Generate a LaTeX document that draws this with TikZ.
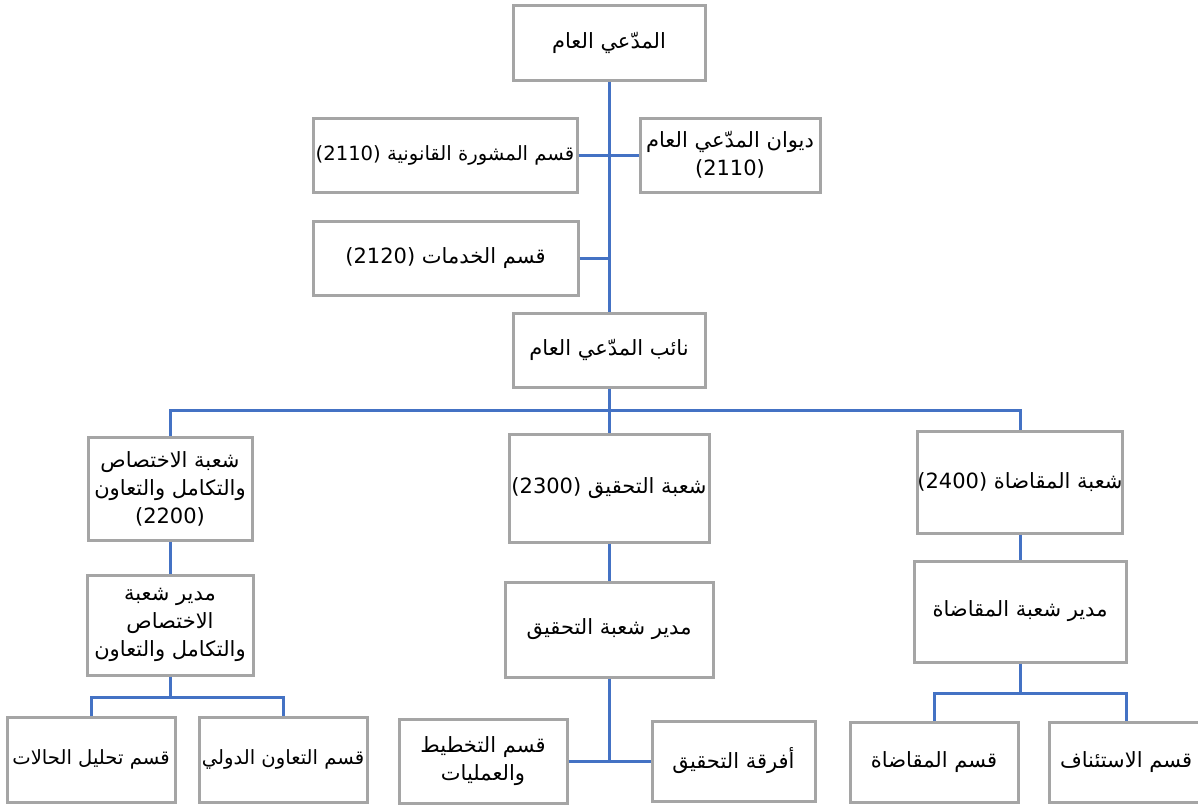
\documentclass[tikz,border=0pt]{standalone}
\usepackage{fontspec}
\usepackage{xcolor}
\TeXXeTstate=1
\newfontfamily\arabicfont[Script=Arabic]{DejaVu Sans}
\newcommand{\artxt}[1]{\beginR #1\endR}
\newcommand{\numtxt}[1]{\beginL #1\endL{}}
\definecolor{linkblue}{HTML}{4472C4}
\definecolor{boxgray}{HTML}{A5A5A5}

\begin{document}
\begin{tikzpicture}[x=0.5pt,y=-0.5pt,
  box/.style={draw=boxgray,line width=1.5pt,inner sep=0pt,align=center,
    font=\arabicfont\fontsize{10.5}{14}\selectfont},
  tightbox/.style={box,font=\arabicfont\fontsize{9.8}{14}\selectfont},
  conn/.style={draw=linkblue,line width=1.5pt}]
\useasboundingbox (0,0) rectangle (1198,805);
\node[box,minimum width=96pt,minimum height=37.5pt] (pg) at (609,42.5) {\artxt{المدّعي العام}};
\node[tightbox,minimum width=132pt,minimum height=37pt] (legal) at (445,155) {\artxt{قسم المشورة القانونية \numtxt{(2110)}}};
\node[box,minimum width=90pt,minimum height=37pt] (diwan) at (730,155) {\artxt{ديوان المدّعي العام}\\(2110)};
\node[box,minimum width=132.5pt,minimum height=37pt] (serv) at (445.5,258) {\artxt{قسم الخدمات \numtxt{(2120)}}};
\node[box,minimum width=96pt,minimum height=37pt] (dep) at (609,350) {\artxt{نائب المدّعي العام}};
\node[box,minimum width=82pt,minimum height=51.5pt] (jic) at (170,488.5) {\artxt{شعبة الاختصاص}\\\artxt{والتكامل والتعاون}\\(2200)};
\node[box,minimum width=100pt,minimum height=54pt] (inv) at (609,488) {\artxt{شعبة التحقيق \numtxt{(2300)}}};
\node[box,minimum width=102pt,minimum height=51pt] (pros) at (1020,482) {\artxt{شعبة المقاضاة \numtxt{(2400)}}};
\node[box,minimum width=83pt,minimum height=50pt] (mjic) at (170,625) {\artxt{مدير شعبة}\\\artxt{الاختصاص}\\\artxt{والتكامل والتعاون}};
\node[box,minimum width=104pt,minimum height=47.5pt] (minv) at (609,629.5) {\artxt{مدير شعبة التحقيق}};
\node[box,minimum width=106pt,minimum height=50.5pt] (mpros) at (1020,611.5) {\artxt{مدير شعبة المقاضاة}};
\node[tightbox,minimum width=84pt,minimum height=42.5pt] (cases) at (91,759.5) {\artxt{قسم تحليل الحالات}};
\node[tightbox,minimum width=84pt,minimum height=42.5pt] (intl) at (283,759.5) {\artxt{قسم التعاون الدولي}};
\node[box,minimum width=84pt,minimum height=42pt] (plan) at (483,761) {\artxt{قسم التخطيط}\\\artxt{والعمليات}};
\node[box,minimum width=81.5pt,minimum height=40pt] (teams) at (733.5,761) {\artxt{أفرقة التحقيق}};
\node[box,minimum width=84pt,minimum height=40pt] (ptrial) at (934,762) {\artxt{قسم المقاضاة}};
\node[box,minimum width=77pt,minimum height=40pt] (appeal) at (1126,762) {\artxt{قسم الاستئناف}};
\coordinate (bus) at (609,410);
\coordinate (lbus) at (170,697);
\coordinate (rbus) at (1020,693);
\draw[conn] (pg.south) -- (dep.north);
\draw[conn] (legal.east) -- (diwan.west);
\draw[conn] (serv.east) -- (serv.east -| pg.south);
\draw[conn] (dep.south) -- (bus);
\draw[conn] (jic.north) |- (bus) -| (pros.north);
\draw[conn] (bus) -- (inv.north);
\draw[conn] (jic.south) -- (mjic.north);
\draw[conn] (inv.south) -- (minv.north);
\draw[conn] (pros.south) -- (mpros.north);
\draw[conn] (mjic.south) -- (lbus);
\draw[conn] (cases.north) |- (lbus) -| (intl.north);
\draw[conn] (plan.east) -- (teams.west);
\draw[conn] (minv.south) -- (minv.south |- plan.east);
\draw[conn] (mpros.south) -- (rbus);
\draw[conn] (ptrial.north) |- (rbus) -| (appeal.north);
\end{tikzpicture}
\end{document}
